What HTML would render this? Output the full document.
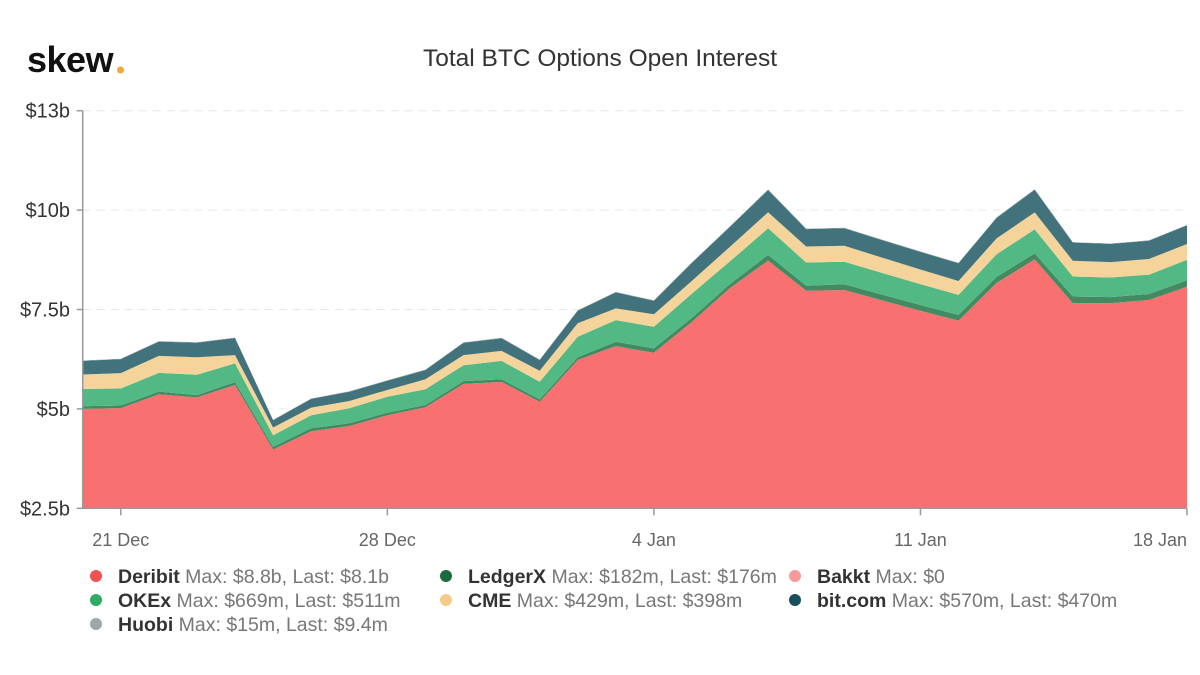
<!DOCTYPE html>
<html><head><meta charset="utf-8"><title>Total BTC Options Open Interest</title>
<style>
html,body{margin:0;padding:0;background:#fff;}
body{width:1200px;height:670px;overflow:hidden;font-family:"Liberation Sans",Arial,sans-serif;}
svg text{font-family:"Liberation Sans",Arial,sans-serif;}
</style></head><body>
<svg id="chart" width="1200" height="670" viewBox="0 0 1200 670" xmlns="http://www.w3.org/2000/svg">
<defs><clipPath id="plotclip"><rect x="82" y="100" width="1106" height="408.3"/></clipPath></defs>
<g>
<text x="27" y="72" font-size="36" font-weight="bold" fill="#111" letter-spacing="-0.5">skew</text>
<circle cx="120.5" cy="70" r="3.5" fill="#f0a830"/>
</g>
<text x="600" y="66" text-anchor="middle" font-size="24.5" fill="#333">Total BTC Options Open Interest</text>
<g id="grid"></g>
<g id="areas" clip-path="url(#plotclip)"></g>
<g id="axes"></g>
<g id="legend"></g>
</svg>
<script>
const dates = ["20 Dec","21 Dec","22 Dec","23 Dec","24 Dec","25 Dec","26 Dec","27 Dec","28 Dec","29 Dec","30 Dec","31 Dec","1 Jan","2 Jan","3 Jan","4 Jan","5 Jan","6 Jan","7 Jan","8 Jan","9 Jan","10 Jan","11 Jan","12 Jan","13 Jan","14 Jan","15 Jan","16 Jan","17 Jan","18 Jan"];
// values in $b
const deribit = [5.00,5.02,5.37,5.29,5.60,3.98,4.44,4.57,4.84,5.04,5.63,5.68,5.18,6.23,6.58,6.41,7.19,8.04,8.73,7.97,7.99,7.73,7.47,7.22,8.17,8.76,7.66,7.66,7.74,8.07];
const ledgerx = [0.068,0.065,0.065,0.058,0.075,0.065,0.075,0.068,0.065,0.058,0.068,0.068,0.060,0.068,0.108,0.111,0.101,0.101,0.143,0.126,0.143,0.143,0.143,0.143,0.151,0.151,0.166,0.151,0.151,0.168];
const bakkt = [0,0,0,0,0,0,0,0,0,0,0,0,0,0,0,0,0,0,0,0,0,0,0,0,0,0,0,0,0,0];
const okex = [0.435,0.428,0.470,0.511,0.470,0.294,0.327,0.377,0.402,0.395,0.402,0.460,0.443,0.518,0.546,0.543,0.611,0.571,0.669,0.586,0.568,0.546,0.526,0.503,0.571,0.604,0.503,0.493,0.485,0.511];
const cme = [0.362,0.387,0.428,0.438,0.209,0.194,0.191,0.184,0.169,0.252,0.252,0.252,0.277,0.337,0.294,0.319,0.319,0.367,0.402,0.402,0.402,0.385,0.367,0.352,0.395,0.428,0.395,0.387,0.395,0.398];
const bitcom = [0.342,0.352,0.360,0.367,0.428,0.184,0.219,0.234,0.234,0.234,0.309,0.319,0.269,0.317,0.402,0.335,0.453,0.503,0.561,0.438,0.438,0.440,0.443,0.445,0.518,0.570,0.460,0.460,0.460,0.470];
const huobi = [0.010,0.010,0.011,0.011,0.012,0.008,0.009,0.009,0.010,0.010,0.011,0.012,0.011,0.012,0.013,0.013,0.014,0.014,0.015,0.013,0.013,0.012,0.012,0.011,0.012,0.013,0.010,0.010,0.010,0.009];
const yTicks = [2.5,5,7.5,10,12.5];
const yTickLabels = ["$2.5b","$5b","$7.5b","$10b","$13b"];
const xTickIdx = [1,8,15,22,29];
const xTickLabels = ["21 Dec","28 Dec","4 Jan","11 Jan","18 Jan"];

const NS="http://www.w3.org/2000/svg";
const X0=82.7, X1=1187, Y0=508.3, PX=39.76, VMIN=2.5;
function xs(i){return X0+(X1-X0)*i/(dates.length-1);}
function ys(v){return Y0-(v-VMIN)*PX;}
function mk(tag,attrs,parent){const e=document.createElementNS(NS,tag);for(const k in attrs)e.setAttribute(k,attrs[k]);parent.appendChild(e);return e;}

const grid=document.getElementById('grid');
yTicks.forEach((t,i)=>{
  if(i===0)return;
  const l=mk('line',{x1:X0,x2:X1,y1:ys(t),y2:ys(t),stroke:'#e6e6e6','stroke-width':1,'stroke-dasharray':'8,6'},grid);
  
  
});

const series=[
 {name:'deribit',vals:deribit,fill:'#f87070'},
 {name:'ledgerx',vals:ledgerx,fill:'#438a62'},
 {name:'bakkt',vals:bakkt,fill:'#f79a9a'},
 {name:'okex',vals:okex,fill:'#52b985'},
 {name:'cme',vals:cme,fill:'#f4d49b'},
 {name:'bitcom',vals:bitcom,fill:'#42727c'},
 {name:'huobi',vals:huobi,fill:'#9aa4ab'}
];
const areas=document.getElementById('areas');
let base=dates.map(()=>0);
series.forEach(s=>{
  const top=base.map((b,i)=>b+s.vals[i]);
  let d='';
  top.forEach((v,i)=>{d+=(i?'L':'M')+xs(i).toFixed(1)+','+ys(v).toFixed(1);});
  for(let i=dates.length-1;i>=0;i--)d+='L'+xs(i).toFixed(1)+','+ys(base[i]).toFixed(1);
  d+='Z';
  const p=mk('path',{d:d,fill:s.fill},areas);
  
  
  base=top;
});

const axes=document.getElementById('axes');
mk('line',{x1:X0,x2:X0,y1:ys(12.5),y2:Y0,stroke:'#999','stroke-width':1.5},axes);
mk('line',{x1:X0,x2:X1,y1:Y0,y2:Y0,stroke:'#999','stroke-width':1.5},axes);
yTicks.forEach((t,i)=>{
  mk('line',{x1:X0-6,x2:X0,y1:ys(t),y2:ys(t),stroke:'#999','stroke-width':1.5},axes);
  const tx=mk('text',{x:70,y:ys(t)+7,'text-anchor':'end','font-size':20,fill:'#333'},axes);
  tx.textContent=yTickLabels[i];
  
  
});
xTickIdx.forEach((idx,i)=>{
  mk('line',{x1:xs(idx),x2:xs(idx),y1:Y0,y2:Y0+7,stroke:'#999','stroke-width':1.5},axes);
  const tx=mk('text',{x:xs(idx),y:546,'text-anchor':i===xTickIdx.length-1?'end':'middle','font-size':18,fill:'#666'},axes);
  if(i===xTickIdx.length-1)tx.setAttribute('x',X1);
  tx.textContent=xTickLabels[i];
  
  
});

const legendItems=[
 {n:'Deribit',t:'Max: $8.8b, Last: $8.1b',c:'#f05252',x:96,y:576},
 {n:'LedgerX',t:'Max: $182m, Last: $176m',c:'#1b6b3c',x:446,y:576},
 {n:'Bakkt',t:'Max: $0',c:'#f79a9a',x:795,y:576},
 {n:'OKEx',t:'Max: $669m, Last: $511m',c:'#2fac64',x:96,y:600},
 {n:'CME',t:'Max: $429m, Last: $398m',c:'#f3cc85',x:446,y:600},
 {n:'bit.com',t:'Max: $570m, Last: $470m',c:'#1c4f5e',x:795,y:600},
 {n:'Huobi',t:'Max: $15m, Last: $9.4m',c:'#9ea5ab',x:96,y:624}
];
const legend=document.getElementById('legend');
legendItems.forEach(it=>{
  const g=mk('g',{},legend);
  
  
  mk('circle',{cx:it.x,cy:it.y,r:6,fill:it.c},g);
  const tx=mk('text',{x:it.x+22,y:it.y+7,'font-size':19.5,fill:'#333'},g);
  const a=document.createElementNS(NS,'tspan');a.setAttribute('font-weight','bold');a.textContent=it.n;tx.appendChild(a);
  const b=document.createElementNS(NS,'tspan');b.setAttribute('fill','#777');b.textContent=' '+it.t;tx.appendChild(b);
});
</script>
</body></html>
